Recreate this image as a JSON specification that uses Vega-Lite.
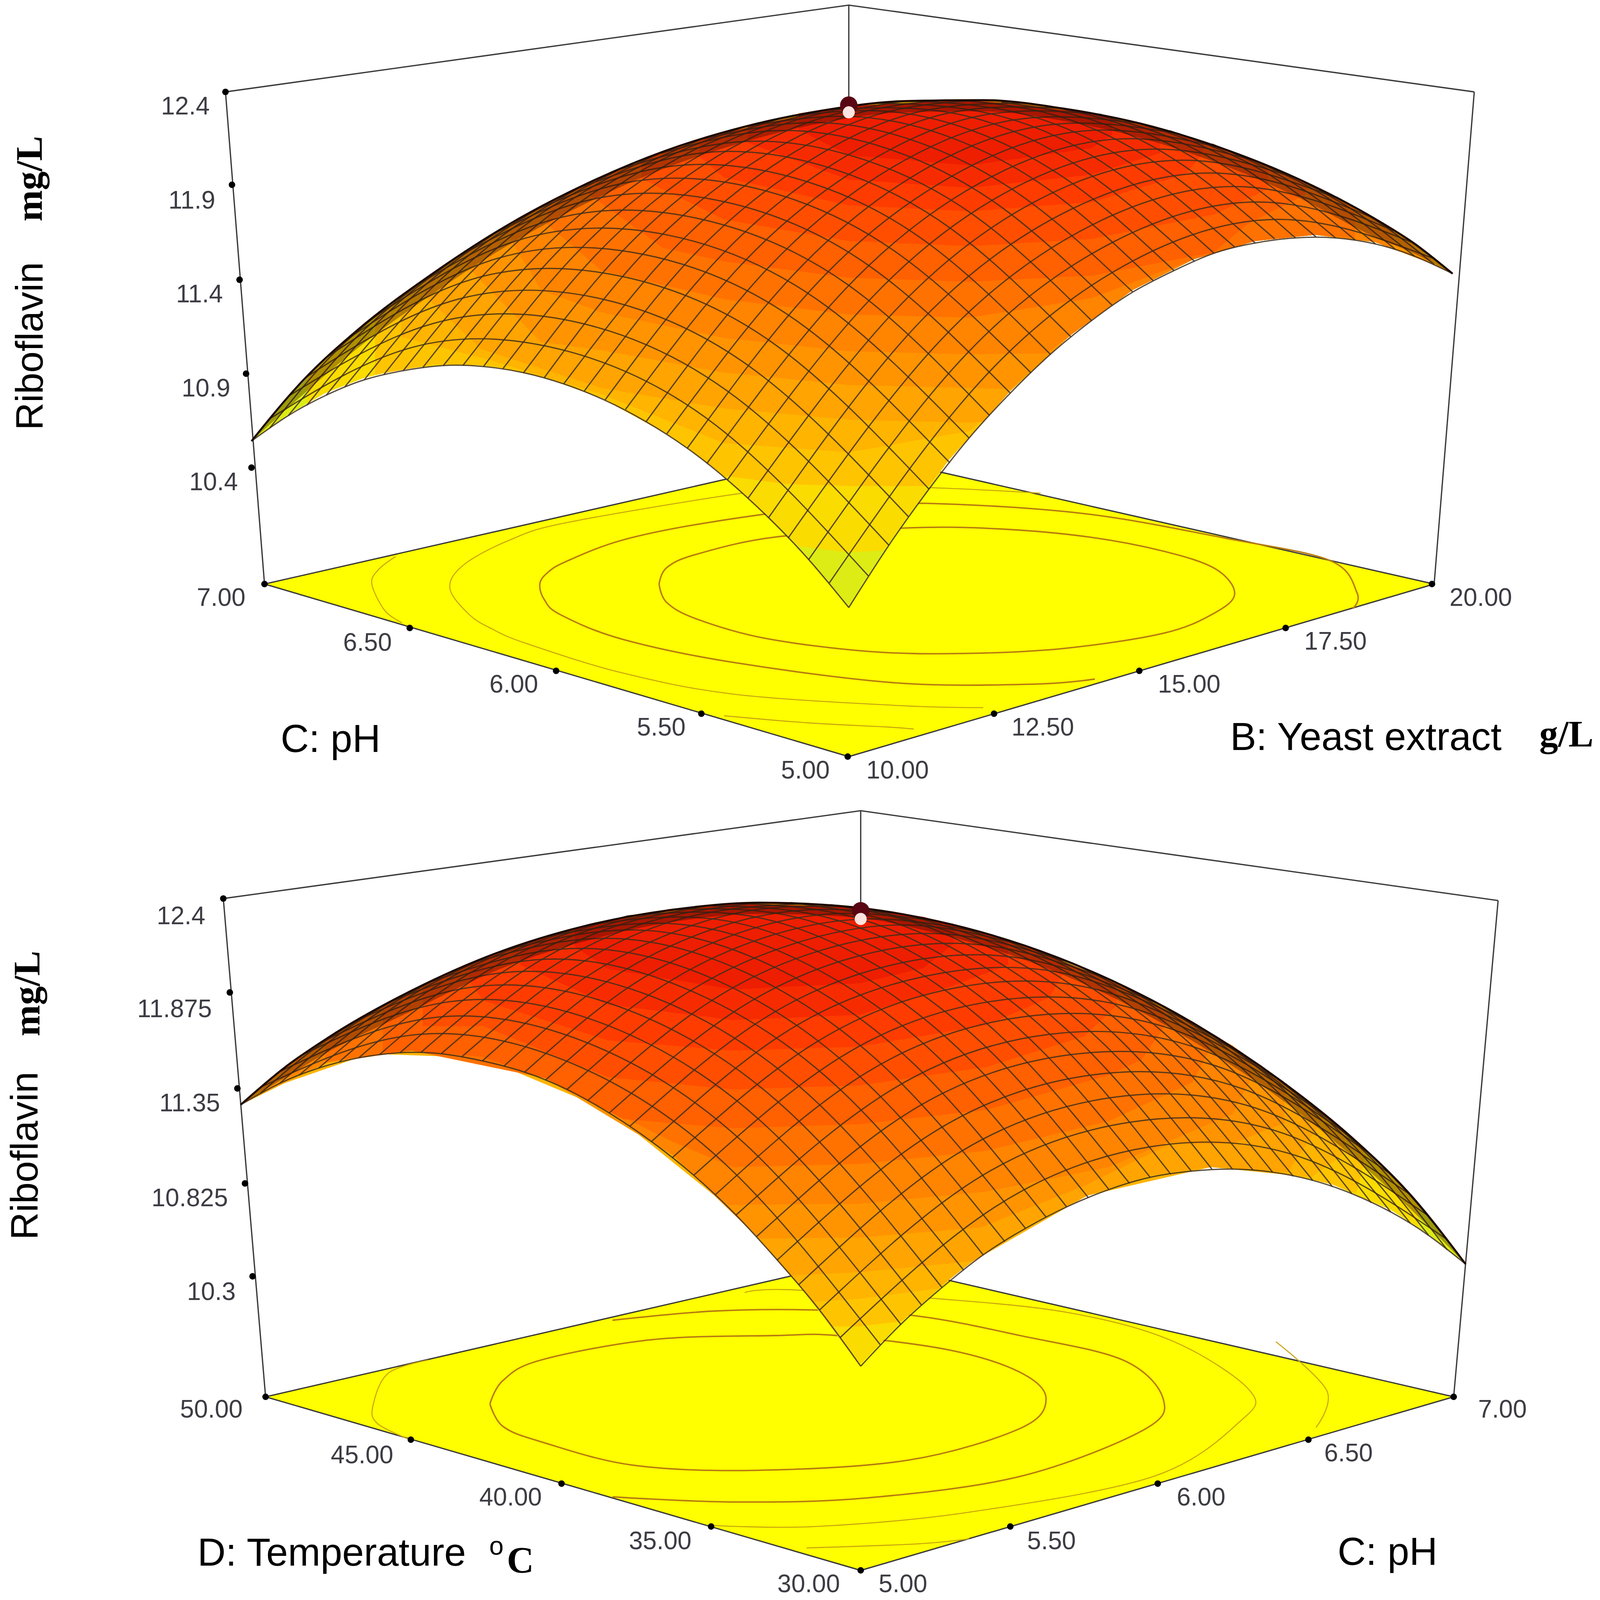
{"$schema":"https://vega.github.io/schema/vega-lite/v6.json","width":4096,"height":4096,"padding":0,"autosize":{"type":"fit","contains":"padding"},"background":"white","config":{"view":{"stroke":null}},
"datasets":{
"plane":[{"b":"1","x":244,"y":572,"y2":572},{"b":"1","x":783,"y":442,"y2":741},{"b":"1","x":1323,"y":572,"y2":572},{"b":"2","x":245,"y":1368,"y2":1368},{"b":"2","x":794,"y":1234,"y2":1538},{"b":"2","x":1341,"y":1368,"y2":1368}],
"frame":[{"m":"t1","x":208,"y":90},{"m":"t1","x":783,"y":5},{"m":"t1","x":1360,"y":90},{"m":"l1","x":208,"y":90},{"m":"l1","x":244,"y":572},{"m":"r1","x":1360,"y":90},{"m":"r1","x":1323,"y":572},{"m":"k1","x":783,"y":5},{"m":"k1","x":783,"y":104},{"m":"pf1","x":244,"y":572},{"m":"pf1","x":783,"y":741},{"m":"pf1","x":1323,"y":572},{"m":"pb1","x":244,"y":572},{"m":"pb1","x":783,"y":442},{"m":"pb1","x":1323,"y":572},{"m":"t2","x":206,"y":880},{"m":"t2","x":794,"y":794},{"m":"t2","x":1382,"y":882},{"m":"l2","x":206,"y":880},{"m":"l2","x":245,"y":1368},{"m":"r2","x":1382,"y":882},{"m":"r2","x":1341,"y":1368},{"m":"k2","x":794,"y":794},{"m":"k2","x":794,"y":892},{"m":"pf2","x":245,"y":1368},{"m":"pf2","x":794,"y":1538},{"m":"pf2","x":1341,"y":1368},{"m":"pb2","x":245,"y":1368},{"m":"pb2","x":794,"y":1234},{"m":"pb2","x":1341,"y":1368}],
"strong":[{"m":"c1","p":1,"x":608,"y":572},{"m":"c1","p":2,"x":615,"y":590},{"m":"c1","p":3,"x":642,"y":606},{"m":"c1","p":4,"x":705,"y":625},{"m":"c1","p":5,"x":801,"y":638},{"m":"c1","p":6,"x":889,"y":640},{"m":"c1","p":7,"x":982,"y":635},{"m":"c1","p":8,"x":1074,"y":620},{"m":"c1","p":9,"x":1121,"y":600},{"m":"c1","p":10,"x":1139,"y":581},{"m":"c1","p":11,"x":1121,"y":557},{"m":"c1","p":12,"x":1074,"y":540},{"m":"c1","p":13,"x":1005,"y":526},{"m":"c1","p":14,"x":922,"y":518},{"m":"c1","p":15,"x":838,"y":517},{"m":"c1","p":16,"x":715,"y":526},{"m":"c1","p":17,"x":642,"y":543},{"m":"c1","p":18,"x":615,"y":556},{"m":"c1","p":19,"x":608,"y":572},
{"m":"d1","p":1,"x":1010,"y":665},{"m":"d1","p":2,"x":954,"y":670},{"m":"d1","p":3,"x":829,"y":669},{"m":"d1","p":4,"x":678,"y":649},{"m":"d1","p":5,"x":574,"y":626},{"m":"d1","p":6,"x":517,"y":602},{"m":"d1","p":7,"x":502,"y":587},{"m":"d1","p":8,"x":498,"y":572},{"m":"d1","p":9,"x":505,"y":561},{"m":"d1","p":10,"x":522,"y":550},{"m":"d1","p":11,"x":574,"y":529},{"m":"d1","p":12,"x":652,"y":512},{"m":"d1","p":13,"x":760,"y":497},{"m":"d1","p":14,"x":855,"y":493},{"m":"d1","p":15,"x":1000,"y":503},{"m":"d1","p":16,"x":1130,"y":527},{"m":"d1","p":17,"x":1227,"y":549},{"m":"d1","p":18,"x":1252,"y":581},{"m":"d1","p":19,"x":1248,"y":596},
{"m":"c2","p":1,"x":452,"y":1375},{"m":"c2","p":2,"x":464,"y":1397},{"m":"c2","p":3,"x":499,"y":1412},{"m":"c2","p":4,"x":584,"y":1435},{"m":"c2","p":5,"x":697,"y":1440},{"m":"c2","p":6,"x":838,"y":1430},{"m":"c2","p":7,"x":941,"y":1399},{"m":"c2","p":8,"x":965,"y":1370},{"m":"c2","p":9,"x":941,"y":1344},{"m":"c2","p":10,"x":875,"y":1322},{"m":"c2","p":11,"x":772,"y":1308},{"m":"c2","p":12,"x":715,"y":1308},{"m":"c2","p":13,"x":602,"y":1312},{"m":"c2","p":14,"x":499,"y":1332},{"m":"c2","p":15,"x":464,"y":1352},{"m":"c2","p":16,"x":452,"y":1375},
{"m":"d2","p":1,"x":565,"y":1466},{"m":"d2","p":2,"x":678,"y":1471},{"m":"d2","p":3,"x":800,"y":1467},{"m":"d2","p":4,"x":941,"y":1446},{"m":"d2","p":5,"x":1054,"y":1401},{"m":"d2","p":6,"x":1073,"y":1370},{"m":"d2","p":7,"x":1036,"y":1332},{"m":"d2","p":8,"x":941,"y":1308},{"m":"d2","p":9,"x":847,"y":1289},{"m":"d2","p":10,"x":753,"y":1283},{"m":"d2","p":11,"x":659,"y":1284},{"m":"d2","p":12,"x":565,"y":1293}],
"faint":[{"m":"e1","p":1,"x":907,"y":693},{"m":"e1","p":2,"x":829,"y":691},{"m":"e1","p":3,"x":678,"y":680},{"m":"e1","p":4,"x":574,"y":659},{"m":"e1","p":5,"x":485,"y":630},{"m":"e1","p":6,"x":454,"y":616},{"m":"e1","p":7,"x":433,"y":602},{"m":"e1","p":8,"x":415,"y":576},{"m":"e1","p":9,"x":428,"y":553},{"m":"e1","p":10,"x":470,"y":529},{"m":"e1","p":11,"x":522,"y":512},{"m":"e1","p":12,"x":678,"y":484},{"m":"e1","p":13,"x":760,"y":475},{"m":"e1","p":14,"x":869,"y":478},{"m":"e1","p":15,"x":960,"y":483},
{"m":"f1","p":1,"x":365,"y":545},{"m":"f1","p":2,"x":349,"y":558},{"m":"f1","p":3,"x":343,"y":572},{"m":"f1","p":4,"x":355,"y":598},{"m":"f1","p":5,"x":371,"y":610},{"m":"g1","p":1,"x":668,"y":701},{"m":"g1","p":2,"x":746,"y":708},{"m":"g1","p":3,"x":818,"y":712},{"m":"g1","p":4,"x":843,"y":714},
{"m":"e2","p":1,"x":376,"y":1409},{"m":"e2","p":2,"x":348,"y":1394},{"m":"e2","p":3,"x":344,"y":1377},{"m":"e2","p":4,"x":358,"y":1345},{"m":"e2","p":5,"x":395,"y":1332},
{"m":"f2","p":1,"x":687,"y":1266},{"m":"f2","p":2,"x":725,"y":1263},{"m":"f2","p":3,"x":866,"y":1272},{"m":"f2","p":4,"x":988,"y":1286},{"m":"f2","p":5,"x":1083,"y":1314},{"m":"f2","p":6,"x":1153,"y":1362},{"m":"f2","p":7,"x":1144,"y":1392},{"m":"f2","p":8,"x":1064,"y":1446},{"m":"f2","p":9,"x":894,"y":1481},{"m":"f2","p":10,"x":753,"y":1495},{"m":"f2","p":11,"x":659,"y":1494},
{"m":"g2","p":1,"x":1177,"y":1314},{"m":"g2","p":2,"x":1224,"y":1362},{"m":"g2","p":3,"x":1214,"y":1398},{"m":"h2","p":1,"x":744,"y":1516},{"m":"h2","p":2,"x":847,"y":1512},{"m":"h2","p":3,"x":894,"y":1507}],
"bands":[
{"b":"s0","l":0,"x":232,"y":432,"y2":432},{"b":"s0","l":0,"x":266,"y":389,"y2":406},{"b":"s0","l":0,"x":300,"y":352,"y2":385},{"b":"s0","l":0,"x":336,"y":318,"y2":370},{"b":"s0","l":0,"x":372,"y":288,"y2":361},{"b":"s0","l":0,"x":427,"y":248,"y2":356},{"b":"s0","l":0,"x":483,"y":212,"y2":363},{"b":"s0","l":0,"x":539,"y":181,"y2":381},{"b":"s0","l":0,"x":596,"y":155,"y2":411},{"b":"s0","l":0,"x":652,"y":134,"y2":452},{"b":"s0","l":0,"x":709,"y":118,"y2":506},{"b":"s0","l":0,"x":746,"y":110,"y2":547},{"b":"s0","l":0,"x":783,"y":104,"y2":594},{"b":"s0","l":0,"x":820,"y":100,"y2":533},{"b":"s0","l":0,"x":875,"y":98,"y2":451},{"b":"s0","l":0,"x":932,"y":100,"y2":383},{"b":"s0","l":0,"x":988,"y":107,"y2":328},{"b":"s0","l":0,"x":1045,"y":119,"y2":284},{"b":"s0","l":0,"x":1101,"y":135,"y2":254},{"b":"s0","l":0,"x":1158,"y":157,"y2":236},{"b":"s0","l":0,"x":1213,"y":183,"y2":230},{"b":"s0","l":0,"x":1268,"y":214,"y2":237},{"b":"s0","l":0,"x":1305,"y":239,"y2":250},{"b":"s0","l":0,"x":1340,"y":268,"y2":268},
{"b":"s1","l":1,"x":283,"y":370,"y2":395},{"b":"s1","l":1,"x":300,"y":352,"y2":385},{"b":"s1","l":1,"x":336,"y":318,"y2":370},{"b":"s1","l":1,"x":372,"y":288,"y2":361},{"b":"s1","l":1,"x":427,"y":248,"y2":356},{"b":"s1","l":1,"x":483,"y":212,"y2":363},{"b":"s1","l":1,"x":539,"y":181,"y2":381},{"b":"s1","l":1,"x":596,"y":155,"y2":411},{"b":"s1","l":1,"x":652,"y":134,"y2":452},{"b":"s1","l":1,"x":709,"y":118,"y2":506},{"b":"s1","l":1,"x":737,"y":112,"y2":535},{"b":"s1","l":1,"x":783,"y":104,"y2":541},{"b":"s1","l":1,"x":815,"y":100,"y2":539},{"b":"s1","l":1,"x":875,"y":98,"y2":451},{"b":"s1","l":1,"x":932,"y":100,"y2":383},{"b":"s1","l":1,"x":988,"y":107,"y2":328},{"b":"s1","l":1,"x":1045,"y":119,"y2":284},{"b":"s1","l":1,"x":1101,"y":135,"y2":254},{"b":"s1","l":1,"x":1158,"y":157,"y2":236},{"b":"s1","l":1,"x":1213,"y":183,"y2":230},{"b":"s1","l":1,"x":1268,"y":214,"y2":237},{"b":"s1","l":1,"x":1305,"y":239,"y2":250},{"b":"s1","l":1,"x":1340,"y":268,"y2":268},
{"b":"s2","l":2,"x":346,"y":310,"y2":367},{"b":"s2","l":2,"x":400,"y":267,"y2":357},{"b":"s2","l":2,"x":450,"y":232,"y2":358},{"b":"s2","l":2,"x":500,"y":202,"y2":369},{"b":"s2","l":2,"x":555,"y":174,"y2":390},{"b":"s2","l":2,"x":620,"y":146,"y2":428},{"b":"s2","l":2,"x":668,"y":130,"y2":466},{"b":"s2","l":2,"x":725,"y":115,"y2":474},{"b":"s2","l":2,"x":783,"y":104,"y2":476},{"b":"s2","l":2,"x":857,"y":99,"y2":476},{"b":"s2","l":2,"x":875,"y":98,"y2":451},{"b":"s2","l":2,"x":932,"y":100,"y2":383},{"b":"s2","l":2,"x":988,"y":107,"y2":328},{"b":"s2","l":2,"x":1045,"y":119,"y2":284},{"b":"s2","l":2,"x":1101,"y":135,"y2":254},{"b":"s2","l":2,"x":1158,"y":157,"y2":236},{"b":"s2","l":2,"x":1213,"y":183,"y2":230},{"b":"s2","l":2,"x":1268,"y":214,"y2":237},{"b":"s2","l":2,"x":1305,"y":239,"y2":250},{"b":"s2","l":2,"x":1340,"y":268,"y2":268},
{"b":"s25","l":2.5,"x":370,"y":290,"y2":330},{"b":"s25","l":2.5,"x":450,"y":232,"y2":352},{"b":"s25","l":2.5,"x":555,"y":174,"y2":386},{"b":"s25","l":2.5,"x":668,"y":130,"y2":434},{"b":"s25","l":2.5,"x":783,"y":104,"y2":443},{"b":"s25","l":2.5,"x":895,"y":98,"y2":422},{"b":"s25","l":2.5,"x":932,"y":100,"y2":383},{"b":"s25","l":2.5,"x":988,"y":107,"y2":328},{"b":"s25","l":2.5,"x":1045,"y":119,"y2":284},{"b":"s25","l":2.5,"x":1101,"y":135,"y2":254},{"b":"s25","l":2.5,"x":1158,"y":157,"y2":236},{"b":"s25","l":2.5,"x":1213,"y":183,"y2":230},{"b":"s25","l":2.5,"x":1268,"y":214,"y2":237},{"b":"s25","l":2.5,"x":1305,"y":239,"y2":250},{"b":"s25","l":2.5,"x":1340,"y":268,"y2":268},
{"b":"s3","l":3,"x":392,"y":273,"y2":290},{"b":"s3","l":3,"x":444,"y":236,"y2":342},{"b":"s3","l":3,"x":555,"y":174,"y2":380},{"b":"s3","l":3,"x":668,"y":130,"y2":400},{"b":"s3","l":3,"x":783,"y":104,"y2":411},{"b":"s3","l":3,"x":895,"y":98,"y2":414},{"b":"s3","l":3,"x":907,"y":98,"y2":413},{"b":"s3","l":3,"x":932,"y":100,"y2":383},{"b":"s3","l":3,"x":988,"y":107,"y2":328},{"b":"s3","l":3,"x":1045,"y":119,"y2":284},{"b":"s3","l":3,"x":1101,"y":135,"y2":254},{"b":"s3","l":3,"x":1158,"y":157,"y2":236},{"b":"s3","l":3,"x":1213,"y":183,"y2":230},{"b":"s3","l":3,"x":1268,"y":214,"y2":237},{"b":"s3","l":3,"x":1305,"y":239,"y2":250},
{"b":"s35","l":3.5,"x":430,"y":245,"y2":260},{"b":"s35","l":3.5,"x":499,"y":202,"y2":335},{"b":"s35","l":3.5,"x":555,"y":174,"y2":343},{"b":"s35","l":3.5,"x":668,"y":130,"y2":365},{"b":"s35","l":3.5,"x":783,"y":104,"y2":377},{"b":"s35","l":3.5,"x":895,"y":98,"y2":380},{"b":"s35","l":3.5,"x":932,"y":100,"y2":381},{"b":"s35","l":3.5,"x":988,"y":107,"y2":328},{"b":"s35","l":3.5,"x":1045,"y":119,"y2":284},{"b":"s35","l":3.5,"x":1101,"y":135,"y2":254},{"b":"s35","l":3.5,"x":1158,"y":157,"y2":236},{"b":"s35","l":3.5,"x":1213,"y":183,"y2":230},{"b":"s35","l":3.5,"x":1268,"y":214,"y2":237},{"b":"s35","l":3.5,"x":1320,"y":254,"y2":258},
{"b":"s4","l":4,"x":471,"y":219,"y2":234},{"b":"s4","l":4,"x":499,"y":202,"y2":284},{"b":"s4","l":4,"x":555,"y":174,"y2":306},{"b":"s4","l":4,"x":668,"y":130,"y2":331},{"b":"s4","l":4,"x":783,"y":104,"y2":344},{"b":"s4","l":4,"x":895,"y":98,"y2":347},{"b":"s4","l":4,"x":965,"y":103,"y2":346},{"b":"s4","l":4,"x":988,"y":107,"y2":328},{"b":"s4","l":4,"x":1045,"y":119,"y2":284},{"b":"s4","l":4,"x":1101,"y":135,"y2":254},{"b":"s4","l":4,"x":1158,"y":157,"y2":236},{"b":"s4","l":4,"x":1213,"y":183,"y2":230},{"b":"s4","l":4,"x":1268,"y":214,"y2":237},{"b":"s4","l":4,"x":1285,"y":226,"y2":243},
{"b":"s45","l":4.5,"x":505,"y":198,"y2":220},{"b":"s45","l":4.5,"x":555,"y":174,"y2":265},{"b":"s45","l":4.5,"x":668,"y":130,"y2":293},{"b":"s45","l":4.5,"x":783,"y":104,"y2":308},{"b":"s45","l":4.5,"x":895,"y":98,"y2":311},{"b":"s45","l":4.5,"x":1007,"y":111,"y2":292},{"b":"s45","l":4.5,"x":1101,"y":135,"y2":254},{"b":"s45","l":4.5,"x":1158,"y":157,"y2":236},{"b":"s45","l":4.5,"x":1213,"y":183,"y2":230},{"b":"s45","l":4.5,"x":1250,"y":203,"y2":233},
{"b":"s5","l":5,"x":543,"y":179,"y2":190},{"b":"s5","l":5,"x":612,"y":149,"y2":243},{"b":"s5","l":5,"x":668,"y":130,"y2":256},{"b":"s5","l":5,"x":783,"y":104,"y2":272},{"b":"s5","l":5,"x":895,"y":98,"y2":276},{"b":"s5","l":5,"x":1007,"y":111,"y2":270},{"b":"s5","l":5,"x":1120,"y":143,"y2":247},{"b":"s5","l":5,"x":1150,"y":155,"y2":220},{"b":"s5","l":5,"x":1205,"y":179,"y2":190},
{"b":"s55","l":5.5,"x":592,"y":156,"y2":175},{"b":"s55","l":5.5,"x":668,"y":130,"y2":215},{"b":"s55","l":5.5,"x":783,"y":104,"y2":236},{"b":"s55","l":5.5,"x":895,"y":98,"y2":241},{"b":"s55","l":5.5,"x":1007,"y":111,"y2":234},{"b":"s55","l":5.5,"x":1120,"y":143,"y2":210},{"b":"s55","l":5.5,"x":1170,"y":165,"y2":185},
{"b":"s6","l":6,"x":645,"y":137,"y2":153},{"b":"s6","l":6,"x":668,"y":130,"y2":174},{"b":"s6","l":6,"x":783,"y":104,"y2":201},{"b":"s6","l":6,"x":895,"y":98,"y2":207},{"b":"s6","l":6,"x":1007,"y":111,"y2":198},{"b":"s6","l":6,"x":1093,"y":134,"y2":171},{"b":"s6","l":6,"x":1110,"y":138,"y2":150},
{"b":"s65","l":6.5,"x":690,"y":124,"y2":140},{"b":"s65","l":6.5,"x":783,"y":104,"y2":176},{"b":"s65","l":6.5,"x":895,"y":98,"y2":184},{"b":"s65","l":6.5,"x":1007,"y":111,"y2":171},{"b":"s65","l":6.5,"x":1070,"y":127,"y2":150},
{"b":"s7","l":7,"x":737,"y":111,"y2":127},{"b":"s7","l":7,"x":783,"y":104,"y2":152},{"b":"s7","l":7,"x":895,"y":98,"y2":162},{"b":"s7","l":7,"x":1007,"y":111,"y2":145},{"b":"s7","l":7,"x":1026,"y":114,"y2":132},
{"b":"t0","l":0,"x":222,"y":1082,"y2":1082},{"b":"t0","l":0,"x":262,"y":1046,"y2":1061},{"b":"t0","l":0,"x":302,"y":1016,"y2":1041},{"b":"t0","l":0,"x":341,"y":992,"y2":1032},{"b":"t0","l":0,"x":380,"y":969,"y2":1029},{"b":"t0","l":0,"x":445,"y":938,"y2":1036},{"b":"t0","l":0,"x":503,"y":917,"y2":1056},{"b":"t0","l":0,"x":562,"y":901,"y2":1088},{"b":"t0","l":0,"x":620,"y":890,"y2":1131},{"b":"t0","l":0,"x":679,"y":885,"y2":1188},{"b":"t0","l":0,"x":736,"y":885,"y2":1257},{"b":"t0","l":0,"x":793,"y":889,"y2":1337},{"b":"t0","l":0,"x":831,"y":896,"y2":1295},{"b":"t0","l":0,"x":888,"y":908,"y2":1242},{"b":"t0","l":0,"x":946,"y":926,"y2":1201},{"b":"t0","l":0,"x":1003,"y":951,"y2":1171},{"b":"t0","l":0,"x":1061,"y":978,"y2":1151},{"b":"t0","l":0,"x":1117,"y":1013,"y2":1143},{"b":"t0","l":0,"x":1174,"y":1053,"y2":1146},{"b":"t0","l":0,"x":1229,"y":1098,"y2":1160},{"b":"t0","l":0,"x":1283,"y":1150,"y2":1185},{"b":"t0","l":0,"x":1318,"y":1191,"y2":1209},{"b":"t0","l":0,"x":1352,"y":1238,"y2":1238},
{"b":"t1","l":1,"x":222,"y":1082,"y2":1082},{"b":"t1","l":1,"x":262,"y":1046,"y2":1061},{"b":"t1","l":1,"x":302,"y":1016,"y2":1041},{"b":"t1","l":1,"x":341,"y":992,"y2":1032},{"b":"t1","l":1,"x":380,"y":969,"y2":1029},{"b":"t1","l":1,"x":445,"y":938,"y2":1036},{"b":"t1","l":1,"x":503,"y":917,"y2":1056},{"b":"t1","l":1,"x":562,"y":901,"y2":1088},{"b":"t1","l":1,"x":620,"y":890,"y2":1131},{"b":"t1","l":1,"x":679,"y":885,"y2":1188},{"b":"t1","l":1,"x":736,"y":885,"y2":1257},{"b":"t1","l":1,"x":793,"y":889,"y2":1337},{"b":"t1","l":1,"x":831,"y":896,"y2":1295},{"b":"t1","l":1,"x":888,"y":908,"y2":1242},{"b":"t1","l":1,"x":946,"y":926,"y2":1201},{"b":"t1","l":1,"x":1003,"y":951,"y2":1171},{"b":"t1","l":1,"x":1061,"y":978,"y2":1151},{"b":"t1","l":1,"x":1117,"y":1013,"y2":1143},{"b":"t1","l":1,"x":1174,"y":1053,"y2":1146},{"b":"t1","l":1,"x":1229,"y":1098,"y2":1160},{"b":"t1","l":1,"x":1283,"y":1150,"y2":1185},{"b":"t1","l":1,"x":1309,"y":1181,"y2":1202},
{"b":"t2","l":2,"x":222,"y":1082,"y2":1082},{"b":"t2","l":2,"x":262,"y":1046,"y2":1061},{"b":"t2","l":2,"x":302,"y":1016,"y2":1041},{"b":"t2","l":2,"x":341,"y":992,"y2":1032},{"b":"t2","l":2,"x":380,"y":969,"y2":1029},{"b":"t2","l":2,"x":445,"y":938,"y2":1036},{"b":"t2","l":2,"x":503,"y":917,"y2":1056},{"b":"t2","l":2,"x":562,"y":901,"y2":1088},{"b":"t2","l":2,"x":620,"y":890,"y2":1131},{"b":"t2","l":2,"x":679,"y":885,"y2":1188},{"b":"t2","l":2,"x":736,"y":885,"y2":1257},{"b":"t2","l":2,"x":768,"y":886,"y2":1299},{"b":"t2","l":2,"x":793,"y":889,"y2":1299},{"b":"t2","l":2,"x":832,"y":896,"y2":1294},{"b":"t2","l":2,"x":888,"y":908,"y2":1242},{"b":"t2","l":2,"x":946,"y":926,"y2":1201},{"b":"t2","l":2,"x":1003,"y":951,"y2":1171},{"b":"t2","l":2,"x":1061,"y":978,"y2":1151},{"b":"t2","l":2,"x":1117,"y":1013,"y2":1143},{"b":"t2","l":2,"x":1174,"y":1053,"y2":1146},{"b":"t2","l":2,"x":1229,"y":1098,"y2":1160},{"b":"t2","l":2,"x":1251,"y":1118,"y2":1169},{"b":"t2","l":2,"x":1258,"y":1125,"y2":1141},
{"b":"t25","l":2.5,"x":222,"y":1082,"y2":1082},{"b":"t25","l":2.5,"x":262,"y":1046,"y2":1061},{"b":"t25","l":2.5,"x":341,"y":992,"y2":1032},{"b":"t25","l":2.5,"x":445,"y":938,"y2":1036},{"b":"t25","l":2.5,"x":562,"y":901,"y2":1088},{"b":"t25","l":2.5,"x":679,"y":885,"y2":1188},{"b":"t25","l":2.5,"x":750,"y":885,"y2":1275},{"b":"t25","l":2.5,"x":793,"y":889,"y2":1272},{"b":"t25","l":2.5,"x":865,"y":902,"y2":1262},{"b":"t25","l":2.5,"x":898,"y":911,"y2":1235},{"b":"t25","l":2.5,"x":1003,"y":951,"y2":1171},{"b":"t25","l":2.5,"x":1117,"y":1013,"y2":1143},{"b":"t25","l":2.5,"x":1210,"y":1082,"y2":1153},{"b":"t25","l":2.5,"x":1240,"y":1108,"y2":1130},
{"b":"t3","l":3,"x":222,"y":1082,"y2":1082},{"b":"t3","l":3,"x":262,"y":1046,"y2":1061},{"b":"t3","l":3,"x":302,"y":1016,"y2":1041},{"b":"t3","l":3,"x":341,"y":992,"y2":1032},{"b":"t3","l":3,"x":380,"y":969,"y2":1029},{"b":"t3","l":3,"x":445,"y":938,"y2":1036},{"b":"t3","l":3,"x":503,"y":917,"y2":1056},{"b":"t3","l":3,"x":562,"y":901,"y2":1088},{"b":"t3","l":3,"x":620,"y":890,"y2":1131},{"b":"t3","l":3,"x":679,"y":885,"y2":1188},{"b":"t3","l":3,"x":730,"y":885,"y2":1249},{"b":"t3","l":3,"x":793,"y":889,"y2":1246},{"b":"t3","l":3,"x":898,"y":911,"y2":1235},{"b":"t3","l":3,"x":946,"y":926,"y2":1201},{"b":"t3","l":3,"x":1003,"y":951,"y2":1171},{"b":"t3","l":3,"x":1061,"y":978,"y2":1151},{"b":"t3","l":3,"x":1117,"y":1013,"y2":1143},{"b":"t3","l":3,"x":1188,"y":1065,"y2":1148},{"b":"t3","l":3,"x":1215,"y":1087,"y2":1105},
{"b":"t35","l":3.5,"x":240,"y":1065,"y2":1071},{"b":"t35","l":3.5,"x":302,"y":1016,"y2":1041},{"b":"t35","l":3.5,"x":380,"y":969,"y2":1029},{"b":"t35","l":3.5,"x":503,"y":917,"y2":1056},{"b":"t35","l":3.5,"x":620,"y":890,"y2":1131},{"b":"t35","l":3.5,"x":700,"y":885,"y2":1213},{"b":"t35","l":3.5,"x":793,"y":889,"y2":1212},{"b":"t35","l":3.5,"x":905,"y":913,"y2":1202},{"b":"t35","l":3.5,"x":1003,"y":951,"y2":1160},{"b":"t35","l":3.5,"x":1080,"y":996,"y2":1120},{"b":"t35","l":3.5,"x":1137,"y":1024,"y2":1120},{"b":"t35","l":3.5,"x":1185,"y":1062,"y2":1100},
{"b":"t4","l":4,"x":259,"y":1048,"y2":1058},{"b":"t4","l":4,"x":302,"y":1016,"y2":1041},{"b":"t4","l":4,"x":341,"y":992,"y2":1032},{"b":"t4","l":4,"x":380,"y":969,"y2":1029},{"b":"t4","l":4,"x":445,"y":938,"y2":1036},{"b":"t4","l":4,"x":503,"y":917,"y2":1056},{"b":"t4","l":4,"x":562,"y":901,"y2":1088},{"b":"t4","l":4,"x":620,"y":890,"y2":1131},{"b":"t4","l":4,"x":672,"y":885,"y2":1180},{"b":"t4","l":4,"x":793,"y":889,"y2":1179},{"b":"t4","l":4,"x":910,"y":914,"y2":1167},{"b":"t4","l":4,"x":1023,"y":959,"y2":1143},{"b":"t4","l":4,"x":1137,"y":1024,"y2":1091},{"b":"t4","l":4,"x":1154,"y":1040,"y2":1057},
{"b":"t45","l":4.5,"x":300,"y":1018,"y2":1040},{"b":"t45","l":4.5,"x":380,"y":969,"y2":1029},{"b":"t45","l":4.5,"x":503,"y":917,"y2":1056},{"b":"t45","l":4.5,"x":620,"y":890,"y2":1118},{"b":"t45","l":4.5,"x":676,"y":885,"y2":1143},{"b":"t45","l":4.5,"x":793,"y":889,"y2":1140},{"b":"t45","l":4.5,"x":910,"y":914,"y2":1127},{"b":"t45","l":4.5,"x":1023,"y":959,"y2":1098},{"b":"t45","l":4.5,"x":1100,"y":1004,"y2":1060},{"b":"t45","l":4.5,"x":1115,"y":1014,"y2":1030},
{"b":"t5","l":5,"x":353,"y":985,"y2":1031},{"b":"t5","l":5,"x":380,"y":969,"y2":1029},{"b":"t5","l":5,"x":445,"y":938,"y2":1035},{"b":"t5","l":5,"x":503,"y":917,"y2":1056},{"b":"t5","l":5,"x":575,"y":899,"y2":1096},{"b":"t5","l":5,"x":676,"y":885,"y2":1105},{"b":"t5","l":5,"x":793,"y":889,"y2":1101},{"b":"t5","l":5,"x":910,"y":914,"y2":1087},{"b":"t5","l":5,"x":1023,"y":959,"y2":1053},{"b":"t5","l":5,"x":1053,"y":975,"y2":1038},{"b":"t5","l":5,"x":1075,"y":990,"y2":1004},
{"b":"t55","l":5.5,"x":390,"y":964,"y2":1005},{"b":"t55","l":5.5,"x":446,"y":938,"y2":1005},{"b":"t55","l":5.5,"x":561,"y":902,"y2":1055},{"b":"t55","l":5.5,"x":676,"y":885,"y2":1067},{"b":"t55","l":5.5,"x":793,"y":889,"y2":1063},{"b":"t55","l":5.5,"x":910,"y":914,"y2":1045},{"b":"t55","l":5.5,"x":1000,"y":950,"y2":1015},{"b":"t55","l":5.5,"x":1030,"y":964,"y2":985},
{"b":"t6","l":6,"x":433,"y":944,"y2":961},{"b":"t6","l":6,"x":446,"y":938,"y2":980},{"b":"t6","l":6,"x":561,"y":902,"y2":1019},{"b":"t6","l":6,"x":676,"y":885,"y2":1029},{"b":"t6","l":6,"x":793,"y":889,"y2":1025},{"b":"t6","l":6,"x":910,"y":914,"y2":1004},{"b":"t6","l":6,"x":968,"y":934,"y2":977},{"b":"t6","l":6,"x":980,"y":940,"y2":955},
{"b":"t65","l":6.5,"x":480,"y":925,"y2":945},{"b":"t65","l":6.5,"x":561,"y":902,"y2":984},{"b":"t65","l":6.5,"x":676,"y":885,"y2":999},{"b":"t65","l":6.5,"x":793,"y":889,"y2":994},{"b":"t65","l":6.5,"x":880,"y":906,"y2":965},{"b":"t65","l":6.5,"x":930,"y":922,"y2":945},
{"b":"t7","l":7,"x":530,"y":910,"y2":927},{"b":"t7","l":7,"x":561,"y":902,"y2":949},{"b":"t7","l":7,"x":676,"y":885,"y2":969},{"b":"t7","l":7,"x":793,"y":889,"y2":963},{"b":"t7","l":7,"x":852,"y":898,"y2":948},{"b":"t7","l":7,"x":880,"y":906,"y2":924}],
"fold":[{"m":"1","x":232,"y":432,"y2":432},{"m":"1","x":280,"y":372,"y2":386},{"m":"1","x":330,"y":323,"y2":341},{"m":"1","x":399,"y":268,"y2":288},{"m":"1","x":469,"y":220,"y2":240},{"m":"1","x":541,"y":180,"y2":199},{"m":"1","x":613,"y":148,"y2":165},{"m":"1","x":687,"y":124,"y2":139},{"m":"1","x":760,"y":108,"y2":120},{"m":"1","x":834,"y":99,"y2":110},{"m":"1","x":907,"y":98,"y2":109},{"m":"1","x":979,"y":106,"y2":118},{"m":"1","x":1052,"y":121,"y2":135},{"m":"1","x":1124,"y":144,"y2":160},{"m":"1","x":1195,"y":174,"y2":192},{"m":"1","x":1268,"y":214,"y2":232},{"m":"1","x":1304,"y":238,"y2":248},{"m":"1","x":1340,"y":268,"y2":268},
{"m":"2","x":222,"y":1082,"y2":1082},{"m":"2","x":262,"y":1046,"y2":1056},{"m":"2","x":303,"y":1016,"y2":1030},{"m":"2","x":380,"y":970,"y2":990},{"m":"2","x":459,"y":933,"y2":950},{"m":"2","x":539,"y":907,"y2":922},{"m":"2","x":620,"y":891,"y2":903},{"m":"2","x":701,"y":884,"y2":895},{"m":"2","x":783,"y":888,"y2":898},{"m":"2","x":864,"y":902,"y2":914},{"m":"2","x":945,"y":926,"y2":940},{"m":"2","x":1025,"y":960,"y2":976},{"m":"2","x":1104,"y":1004,"y2":1022},{"m":"2","x":1181,"y":1058,"y2":1076},{"m":"2","x":1247,"y":1114,"y2":1132},{"m":"2","x":1301,"y":1170,"y2":1184},{"m":"2","x":1352,"y":1238,"y2":1238}],
"mesh":[
{"m":"a0","x":783,"y":595},{"m":"a0","x":820,"y":534},{"m":"a0","x":857,"y":479},{"m":"a0","x":894,"y":429},{"m":"a0","x":932,"y":385},{"m":"a0","x":969,"y":347},{"m":"a0","x":1007,"y":314},{"m":"a0","x":1045,"y":286},{"m":"a0","x":1083,"y":265},{"m":"a0","x":1120,"y":248},{"m":"a0","x":1158,"y":238},{"m":"a0","x":1195,"y":233},{"m":"a0","x":1232,"y":233},{"m":"a0","x":1269,"y":239},{"m":"a0","x":1305,"y":251},{"m":"a0","x":1340,"y":268},
{"m":"a1","x":765,"y":571},{"m":"a1","x":904,"y":374},{"m":"a1","x":1046,"y":255},{"m":"a1","x":1186,"y":215},{"m":"a1","x":1322,"y":253},
{"m":"a2","x":746,"y":548},{"m":"a2","x":886,"y":353},{"m":"a2","x":1027,"y":237},{"m":"a2","x":1168,"y":198},{"m":"a2","x":1304,"y":238},
{"m":"a3","x":727,"y":527},{"m":"a3","x":867,"y":334},{"m":"a3","x":1008,"y":220},{"m":"a3","x":1149,"y":183},{"m":"a3","x":1286,"y":226},
{"m":"a4","x":709,"y":507},{"m":"a4","x":848,"y":316},{"m":"a4","x":990,"y":204},{"m":"a4","x":1131,"y":170},{"m":"a4","x":1268,"y":214},
{"m":"a5","x":690,"y":488},{"m":"a5","x":825,"y":305},{"m":"a5","x":961,"y":194},{"m":"a5","x":1098,"y":157},{"m":"a5","x":1231,"y":193},
{"m":"a6","x":671,"y":470},{"m":"a6","x":802,"y":294},{"m":"a6","x":934,"y":185},{"m":"a6","x":1066,"y":146},{"m":"a6","x":1195,"y":174},
{"m":"a7","x":652,"y":454},{"m":"a7","x":779,"y":284},{"m":"a7","x":906,"y":178},{"m":"a7","x":1034,"y":136},{"m":"a7","x":1160,"y":158},
{"m":"a8","x":634,"y":439},{"m":"a8","x":755,"y":276},{"m":"a8","x":879,"y":172},{"m":"a8","x":1002,"y":128},{"m":"a8","x":1124,"y":144},
{"m":"a9","x":615,"y":425},{"m":"a9","x":732,"y":269},{"m":"a9","x":851,"y":167},{"m":"a9","x":970,"y":122},{"m":"a9","x":1088,"y":131},
{"m":"a10","x":596,"y":413},{"m":"a10","x":708,"y":263},{"m":"a10","x":823,"y":164},{"m":"a10","x":938,"y":117},{"m":"a10","x":1052,"y":121},
{"m":"a11","x":577,"y":401},{"m":"a11","x":685,"y":258},{"m":"a11","x":796,"y":162},{"m":"a11","x":906,"y":113},{"m":"a11","x":1016,"y":112},
{"m":"a12","x":558,"y":392},{"m":"a12","x":661,"y":255},{"m":"a12","x":768,"y":161},{"m":"a12","x":874,"y":111},{"m":"a12","x":979,"y":106},
{"m":"a13","x":539,"y":383},{"m":"a13","x":638,"y":252},{"m":"a13","x":740,"y":162},{"m":"a13","x":842,"y":111},{"m":"a13","x":943,"y":101},
{"m":"a14","x":520,"y":376},{"m":"a14","x":615,"y":251},{"m":"a14","x":712,"y":163},{"m":"a14","x":810,"y":112},{"m":"a14","x":907,"y":98},
{"m":"a15","x":502,"y":370},{"m":"a15","x":591,"y":251},{"m":"a15","x":684,"y":167},{"m":"a15","x":778,"y":115},{"m":"a15","x":870,"y":98},
{"m":"a16","x":483,"y":365},{"m":"a16","x":568,"y":253},{"m":"a16","x":656,"y":171},{"m":"a16","x":745,"y":120},{"m":"a16","x":834,"y":99},
{"m":"a17","x":464,"y":361},{"m":"a17","x":545,"y":255},{"m":"a17","x":628,"y":177},{"m":"a17","x":712,"y":126},{"m":"a17","x":797,"y":102},
{"m":"a18","x":446,"y":359},{"m":"a18","x":522,"y":259},{"m":"a18","x":600,"y":184},{"m":"a18","x":680,"y":134},{"m":"a18","x":760,"y":108},
{"m":"a19","x":427,"y":358},{"m":"a19","x":499,"y":264},{"m":"a19","x":572,"y":192},{"m":"a19","x":648,"y":143},{"m":"a19","x":723,"y":115},
{"m":"a20","x":409,"y":358},{"m":"a20","x":499,"y":246},{"m":"a20","x":592,"y":167},{"m":"a20","x":687,"y":124},
{"m":"a21","x":390,"y":360},{"m":"a21","x":474,"y":254},{"m":"a21","x":561,"y":180},{"m":"a21","x":650,"y":135},
{"m":"a22","x":372,"y":363},{"m":"a22","x":450,"y":265},{"m":"a22","x":531,"y":193},{"m":"a22","x":613,"y":148},
{"m":"a23","x":354,"y":367},{"m":"a23","x":426,"y":276},{"m":"a23","x":501,"y":208},{"m":"a23","x":577,"y":163},
{"m":"a24","x":336,"y":372},{"m":"a24","x":402,"y":289},{"m":"a24","x":471,"y":225},{"m":"a24","x":541,"y":180},
{"m":"a25","x":318,"y":379},{"m":"a25","x":379,"y":303},{"m":"a25","x":441,"y":243},{"m":"a25","x":505,"y":199},
{"m":"a26","x":301,"y":387},{"m":"a26","x":383,"y":288},{"m":"a26","x":469,"y":220},
{"m":"a27","x":283,"y":397},{"m":"a27","x":357,"y":307},{"m":"a27","x":434,"y":243},
{"m":"a28","x":266,"y":407},{"m":"a28","x":331,"y":328},{"m":"a28","x":399,"y":268},
{"m":"a29","x":249,"y":419},{"m":"a29","x":305,"y":349},{"m":"a29","x":364,"y":295},
{"m":"a30","x":232,"y":432},{"m":"a30","x":280,"y":372},{"m":"a30","x":330,"y":323},
{"m":"b0","x":783,"y":595},{"m":"b0","x":746,"y":548},{"m":"b0","x":709,"y":507},{"m":"b0","x":671,"y":470},{"m":"b0","x":634,"y":439},{"m":"b0","x":596,"y":413},{"m":"b0","x":558,"y":392},{"m":"b0","x":520,"y":376},{"m":"b0","x":483,"y":365},{"m":"b0","x":446,"y":359},{"m":"b0","x":409,"y":358},{"m":"b0","x":372,"y":363},{"m":"b0","x":336,"y":372},{"m":"b0","x":301,"y":387},{"m":"b0","x":266,"y":407},{"m":"b0","x":232,"y":432},
{"m":"b1","x":801,"y":564},{"m":"b1","x":661,"y":417},{"m":"b1","x":520,"y":343},{"m":"b1","x":381,"y":340},{"m":"b1","x":249,"y":410},
{"m":"b2","x":820,"y":534},{"m":"b2","x":680,"y":390},{"m":"b2","x":538,"y":317},{"m":"b2","x":399,"y":317},{"m":"b2","x":266,"y":388},
{"m":"b3","x":838,"y":506},{"m":"b3","x":698,"y":364},{"m":"b3","x":556,"y":293},{"m":"b3","x":416,"y":295},{"m":"b3","x":283,"y":369},
{"m":"b4","x":857,"y":479},{"m":"b4","x":717,"y":339},{"m":"b4","x":575,"y":271},{"m":"b4","x":434,"y":274},{"m":"b4","x":301,"y":350},
{"m":"b5","x":876,"y":453},{"m":"b5","x":736,"y":315},{"m":"b5","x":593,"y":249},{"m":"b5","x":453,"y":255},{"m":"b5","x":319,"y":333},
{"m":"b6","x":894,"y":429},{"m":"b6","x":756,"y":295},{"m":"b6","x":615,"y":230},{"m":"b6","x":476,"y":236},{"m":"b6","x":343,"y":312},
{"m":"b7","x":913,"y":407},{"m":"b7","x":781,"y":278},{"m":"b7","x":644,"y":214},{"m":"b7","x":510,"y":215},{"m":"b7","x":380,"y":282},
{"m":"b8","x":932,"y":385},{"m":"b8","x":804,"y":262},{"m":"b8","x":674,"y":199},{"m":"b8","x":543,"y":196},{"m":"b8","x":418,"y":254},
{"m":"b9","x":951,"y":365},{"m":"b9","x":828,"y":248},{"m":"b9","x":703,"y":186},{"m":"b9","x":577,"y":179},{"m":"b9","x":455,"y":229},
{"m":"b10","x":969,"y":347},{"m":"b10","x":852,"y":235},{"m":"b10","x":732,"y":174},{"m":"b10","x":611,"y":164},{"m":"b10","x":493,"y":206},
{"m":"b11","x":988,"y":330},{"m":"b11","x":876,"y":223},{"m":"b11","x":761,"y":163},{"m":"b11","x":646,"y":150},{"m":"b11","x":532,"y":185},
{"m":"b12","x":1007,"y":314},{"m":"b12","x":900,"y":212},{"m":"b12","x":790,"y":154},{"m":"b12","x":680,"y":139},{"m":"b12","x":571,"y":166},
{"m":"b13","x":1026,"y":299},{"m":"b13","x":924,"y":203},{"m":"b13","x":820,"y":146},{"m":"b13","x":714,"y":128},{"m":"b13","x":610,"y":150},
{"m":"b14","x":1045,"y":286},{"m":"b14","x":948,"y":196},{"m":"b14","x":849,"y":140},{"m":"b14","x":749,"y":120},{"m":"b14","x":649,"y":136},
{"m":"b15","x":1064,"y":275},{"m":"b15","x":972,"y":189},{"m":"b15","x":878,"y":135},{"m":"b15","x":784,"y":114},{"m":"b15","x":688,"y":124},
{"m":"b16","x":1083,"y":265},{"m":"b16","x":995,"y":184},{"m":"b16","x":907,"y":132},{"m":"b16","x":818,"y":109},{"m":"b16","x":728,"y":114},
{"m":"b17","x":1102,"y":256},{"m":"b17","x":992,"y":161},{"m":"b17","x":880,"y":111},{"m":"b17","x":767,"y":107},
{"m":"b18","x":1120,"y":248},{"m":"b18","x":1017,"y":159},{"m":"b18","x":912,"y":111},{"m":"b18","x":807,"y":101},
{"m":"b19","x":1139,"y":242},{"m":"b19","x":1043,"y":160},{"m":"b19","x":945,"y":112},{"m":"b19","x":846,"y":99},
{"m":"b20","x":1158,"y":238},{"m":"b20","x":1068,"y":161},{"m":"b20","x":977,"y":114},{"m":"b20","x":885,"y":98},
{"m":"b21","x":1176,"y":234},{"m":"b21","x":1093,"y":163},{"m":"b21","x":1009,"y":118},{"m":"b21","x":924,"y":100},
{"m":"b22","x":1195,"y":233},{"m":"b22","x":1119,"y":167},{"m":"b22","x":1041,"y":124},{"m":"b22","x":963,"y":103},
{"m":"b23","x":1214,"y":232},{"m":"b23","x":1144,"y":173},{"m":"b23","x":1073,"y":132},{"m":"b23","x":1002,"y":110},
{"m":"b24","x":1232,"y":233},{"m":"b24","x":1169,"y":180},{"m":"b24","x":1105,"y":141},{"m":"b24","x":1041,"y":118},
{"m":"b25","x":1250,"y":235},{"m":"b25","x":1166,"y":168},{"m":"b25","x":1079,"y":128},
{"m":"b26","x":1269,"y":239},{"m":"b26","x":1194,"y":180},{"m":"b26","x":1118,"y":141},
{"m":"b27","x":1287,"y":244},{"m":"b27","x":1222,"y":192},{"m":"b27","x":1156,"y":157},
{"m":"b28","x":1305,"y":251},{"m":"b28","x":1250,"y":207},{"m":"b28","x":1195,"y":174},
{"m":"b29","x":1323,"y":259},{"m":"b29","x":1278,"y":222},{"m":"b29","x":1233,"y":193},
{"m":"b30","x":1340,"y":268},{"m":"b30","x":1306,"y":239},{"m":"b30","x":1270,"y":215},
{"m":"A0","x":794,"y":1338},{"m":"A0","x":831,"y":1297},{"m":"A0","x":869,"y":1261},{"m":"A0","x":907,"y":1229},{"m":"A0","x":946,"y":1203},{"m":"A0","x":984,"y":1182},{"m":"A0","x":1023,"y":1165},{"m":"A0","x":1061,"y":1153},{"m":"A0","x":1099,"y":1147},{"m":"A0","x":1137,"y":1145},{"m":"A0","x":1174,"y":1148},{"m":"A0","x":1211,"y":1156},{"m":"A0","x":1247,"y":1169},{"m":"A0","x":1283,"y":1187},{"m":"A0","x":1318,"y":1210},{"m":"A0","x":1352,"y":1238},
{"m":"A1","x":775,"y":1310},{"m":"A1","x":918,"y":1182},{"m":"A1","x":1062,"y":1123},{"m":"A1","x":1202,"y":1134},{"m":"A1","x":1335,"y":1214},
{"m":"A2","x":756,"y":1283},{"m":"A2","x":899,"y":1156},{"m":"A2","x":1043,"y":1099},{"m":"A2","x":1184,"y":1110},{"m":"A2","x":1318,"y":1191},
{"m":"A3","x":737,"y":1258},{"m":"A3","x":880,"y":1132},{"m":"A3","x":1025,"y":1075},{"m":"A3","x":1166,"y":1088},{"m":"A3","x":1301,"y":1170},
{"m":"A4","x":717,"y":1234},{"m":"A4","x":861,"y":1109},{"m":"A4","x":1006,"y":1053},{"m":"A4","x":1148,"y":1067},{"m":"A4","x":1283,"y":1150},
{"m":"A5","x":698,"y":1211},{"m":"A5","x":842,"y":1087},{"m":"A5","x":987,"y":1033},{"m":"A5","x":1130,"y":1047},{"m":"A5","x":1265,"y":1131},
{"m":"A6","x":679,"y":1190},{"m":"A6","x":823,"y":1067},{"m":"A6","x":968,"y":1013},{"m":"A6","x":1111,"y":1029},{"m":"A6","x":1247,"y":1114},
{"m":"A7","x":660,"y":1170},{"m":"A7","x":800,"y":1050},{"m":"A7","x":943,"y":996},{"m":"A7","x":1084,"y":1009},{"m":"A7","x":1218,"y":1089},
{"m":"A8","x":640,"y":1151},{"m":"A8","x":776,"y":1035},{"m":"A8","x":913,"y":981},{"m":"A8","x":1050,"y":989},{"m":"A8","x":1181,"y":1058},
{"m":"A9","x":620,"y":1134},{"m":"A9","x":751,"y":1022},{"m":"A9","x":884,"y":967},{"m":"A9","x":1015,"y":970},{"m":"A9","x":1142,"y":1030},
{"m":"A10","x":601,"y":1118},{"m":"A10","x":726,"y":1010},{"m":"A10","x":854,"y":956},{"m":"A10","x":980,"y":953},{"m":"A10","x":1104,"y":1004},
{"m":"A11","x":581,"y":1103},{"m":"A11","x":701,"y":1000},{"m":"A11","x":823,"y":945},{"m":"A11","x":945,"y":939},{"m":"A11","x":1064,"y":981},
{"m":"A12","x":562,"y":1090},{"m":"A12","x":677,"y":991},{"m":"A12","x":793,"y":936},{"m":"A12","x":910,"y":926},{"m":"A12","x":1025,"y":960},
{"m":"A13","x":542,"y":1078},{"m":"A13","x":652,"y":983},{"m":"A13","x":763,"y":929},{"m":"A13","x":875,"y":915},{"m":"A13","x":985,"y":942},
{"m":"A14","x":523,"y":1067},{"m":"A14","x":627,"y":977},{"m":"A14","x":733,"y":924},{"m":"A14","x":839,"y":906},{"m":"A14","x":945,"y":926},
{"m":"A15","x":503,"y":1058},{"m":"A15","x":602,"y":972},{"m":"A15","x":703,"y":919},{"m":"A15","x":804,"y":900},{"m":"A15","x":905,"y":913},
{"m":"A16","x":484,"y":1050},{"m":"A16","x":577,"y":969},{"m":"A16","x":673,"y":917},{"m":"A16","x":768,"y":895},{"m":"A16","x":864,"y":902},
{"m":"A17","x":465,"y":1044},{"m":"A17","x":552,"y":967},{"m":"A17","x":642,"y":916},{"m":"A17","x":733,"y":892},{"m":"A17","x":823,"y":894},
{"m":"A18","x":445,"y":1039},{"m":"A18","x":528,"y":966},{"m":"A18","x":612,"y":917},{"m":"A18","x":697,"y":891},{"m":"A18","x":783,"y":888},
{"m":"A19","x":426,"y":1035},{"m":"A19","x":529,"y":948},{"m":"A19","x":635,"y":898},{"m":"A19","x":742,"y":885},
{"m":"A20","x":407,"y":1032},{"m":"A20","x":503,"y":951},{"m":"A20","x":601,"y":902},{"m":"A20","x":701,"y":884},
{"m":"A21","x":388,"y":1031},{"m":"A21","x":477,"y":955},{"m":"A21","x":568,"y":907},{"m":"A21","x":660,"y":886},
{"m":"A22","x":369,"y":1031},{"m":"A22","x":451,"y":961},{"m":"A22","x":535,"y":914},{"m":"A22","x":620,"y":891},
{"m":"A23","x":350,"y":1033},{"m":"A23","x":425,"y":968},{"m":"A23","x":501,"y":923},{"m":"A23","x":579,"y":897},
{"m":"A24","x":331,"y":1036},{"m":"A24","x":399,"y":977},{"m":"A24","x":468,"y":934},{"m":"A24","x":539,"y":907},
{"m":"A25","x":313,"y":1040},{"m":"A25","x":373,"y":987},{"m":"A25","x":436,"y":946},{"m":"A25","x":499,"y":919},
{"m":"A26","x":294,"y":1046},{"m":"A26","x":375,"y":978},{"m":"A26","x":459,"y":933},
{"m":"A27","x":276,"y":1053},{"m":"A27","x":347,"y":993},{"m":"A27","x":419,"y":950},
{"m":"A28","x":258,"y":1061},{"m":"A28","x":318,"y":1009},{"m":"A28","x":380,"y":970},
{"m":"A29","x":240,"y":1071},{"m":"A29","x":290,"y":1027},{"m":"A29","x":341,"y":992},
{"m":"A30","x":222,"y":1082},{"m":"A30","x":262,"y":1046},{"m":"A30","x":303,"y":1016},
{"m":"B0","x":794,"y":1338},{"m":"B0","x":756,"y":1283},{"m":"B0","x":717,"y":1234},{"m":"B0","x":679,"y":1190},{"m":"B0","x":640,"y":1151},{"m":"B0","x":601,"y":1118},{"m":"B0","x":562,"y":1090},{"m":"B0","x":523,"y":1067},{"m":"B0","x":484,"y":1050},{"m":"B0","x":445,"y":1039},{"m":"B0","x":407,"y":1032},{"m":"B0","x":369,"y":1031},{"m":"B0","x":331,"y":1036},{"m":"B0","x":294,"y":1046},{"m":"B0","x":258,"y":1061},{"m":"B0","x":222,"y":1082},
{"m":"B1","x":812,"y":1317},{"m":"B1","x":669,"y":1140},{"m":"B1","x":522,"y":1039},{"m":"B1","x":378,"y":1014},{"m":"B1","x":240,"y":1065},
{"m":"B2","x":831,"y":1297},{"m":"B2","x":688,"y":1121},{"m":"B2","x":541,"y":1021},{"m":"B2","x":397,"y":997},{"m":"B2","x":259,"y":1049},
{"m":"B3","x":850,"y":1278},{"m":"B3","x":707,"y":1103},{"m":"B3","x":560,"y":1004},{"m":"B3","x":415,"y":981},{"m":"B3","x":277,"y":1034},
{"m":"B4","x":869,"y":1261},{"m":"B4","x":726,"y":1087},{"m":"B4","x":579,"y":989},{"m":"B4","x":434,"y":967},{"m":"B4","x":296,"y":1021},
{"m":"B5","x":889,"y":1244},{"m":"B5","x":748,"y":1074},{"m":"B5","x":604,"y":977},{"m":"B5","x":461,"y":953},{"m":"B5","x":324,"y":1002},
{"m":"B6","x":907,"y":1229},{"m":"B6","x":772,"y":1064},{"m":"B6","x":632,"y":968},{"m":"B6","x":494,"y":940},{"m":"B6","x":360,"y":981},
{"m":"B7","x":927,"y":1216},{"m":"B7","x":795,"y":1056},{"m":"B7","x":661,"y":960},{"m":"B7","x":526,"y":929},{"m":"B7","x":396,"y":962},
{"m":"B8","x":946,"y":1203},{"m":"B8","x":819,"y":1048},{"m":"B8","x":689,"y":953},{"m":"B8","x":559,"y":919},{"m":"B8","x":432,"y":944},
{"m":"B9","x":965,"y":1192},{"m":"B9","x":843,"y":1042},{"m":"B9","x":718,"y":949},{"m":"B9","x":592,"y":911},{"m":"B9","x":468,"y":930},
{"m":"B10","x":984,"y":1182},{"m":"B10","x":867,"y":1037},{"m":"B10","x":746,"y":945},{"m":"B10","x":625,"y":905},{"m":"B10","x":505,"y":917},
{"m":"B11","x":1004,"y":1173},{"m":"B11","x":891,"y":1034},{"m":"B11","x":775,"y":943},{"m":"B11","x":658,"y":900},{"m":"B11","x":542,"y":906},
{"m":"B12","x":1023,"y":1165},{"m":"B12","x":915,"y":1031},{"m":"B12","x":803,"y":942},{"m":"B12","x":691,"y":897},{"m":"B12","x":579,"y":897},
{"m":"B13","x":1042,"y":1159},{"m":"B13","x":938,"y":1030},{"m":"B13","x":832,"y":942},{"m":"B13","x":724,"y":896},{"m":"B13","x":616,"y":891},
{"m":"B14","x":1061,"y":1153},{"m":"B14","x":962,"y":1030},{"m":"B14","x":860,"y":944},{"m":"B14","x":757,"y":897},{"m":"B14","x":654,"y":887},
{"m":"B15","x":1080,"y":1150},{"m":"B15","x":986,"y":1031},{"m":"B15","x":889,"y":948},{"m":"B15","x":790,"y":899},{"m":"B15","x":691,"y":885},
{"m":"B16","x":1099,"y":1147},{"m":"B16","x":1009,"y":1034},{"m":"B16","x":917,"y":953},{"m":"B16","x":823,"y":903},{"m":"B16","x":729,"y":884},
{"m":"B17","x":1118,"y":1145},{"m":"B17","x":1033,"y":1038},{"m":"B17","x":945,"y":959},{"m":"B17","x":856,"y":908},{"m":"B17","x":766,"y":886},
{"m":"B18","x":1137,"y":1145},{"m":"B18","x":1029,"y":1014},{"m":"B18","x":917,"y":930},{"m":"B18","x":804,"y":891},
{"m":"B19","x":1156,"y":1146},{"m":"B19","x":1054,"y":1022},{"m":"B19","x":948,"y":939},{"m":"B19","x":841,"y":897},
{"m":"B20","x":1174,"y":1148},{"m":"B20","x":1079,"y":1031},{"m":"B20","x":980,"y":950},{"m":"B20","x":878,"y":905},
{"m":"B21","x":1193,"y":1152},{"m":"B21","x":1103,"y":1041},{"m":"B21","x":1010,"y":962},{"m":"B21","x":916,"y":916},
{"m":"B22","x":1211,"y":1156},{"m":"B22","x":1127,"y":1052},{"m":"B22","x":1041,"y":976},{"m":"B22","x":952,"y":929},
{"m":"B23","x":1229,"y":1162},{"m":"B23","x":1152,"y":1064},{"m":"B23","x":1071,"y":991},{"m":"B23","x":989,"y":943},
{"m":"B24","x":1247,"y":1169},{"m":"B24","x":1176,"y":1078},{"m":"B24","x":1102,"y":1009},{"m":"B24","x":1026,"y":960},
{"m":"B25","x":1265,"y":1178},{"m":"B25","x":1200,"y":1093},{"m":"B25","x":1132,"y":1027},{"m":"B25","x":1062,"y":979},
{"m":"B26","x":1283,"y":1187},{"m":"B26","x":1223,"y":1110},{"m":"B26","x":1162,"y":1047},{"m":"B26","x":1098,"y":1001},
{"m":"B27","x":1301,"y":1198},{"m":"B27","x":1219,"y":1097},{"m":"B27","x":1134,"y":1024},
{"m":"B28","x":1318,"y":1210},{"m":"B28","x":1245,"y":1118},{"m":"B28","x":1169,"y":1049},
{"m":"B29","x":1335,"y":1224},{"m":"B29","x":1271,"y":1141},{"m":"B29","x":1204,"y":1077},
{"m":"B30","x":1352,"y":1238},{"m":"B30","x":1296,"y":1165},{"m":"B30","x":1239,"y":1107}],
"dots":[{"x":208,"y":90},{"x":214,"y":181},{"x":221,"y":274},{"x":227,"y":366},{"x":232,"y":458},{"x":244,"y":572},{"x":378,"y":615},{"x":513,"y":657},{"x":647,"y":699},{"x":782,"y":741},{"x":917,"y":699},{"x":1051,"y":657},{"x":1186,"y":615},{"x":1321,"y":572},{"x":206,"y":880},{"x":212,"y":972},{"x":219,"y":1066},{"x":226,"y":1159},{"x":233,"y":1250},{"x":245,"y":1368},{"x":379,"y":1410},{"x":518,"y":1453},{"x":656,"y":1495},{"x":794,"y":1538},{"x":932,"y":1495},{"x":1068,"y":1453},{"x":1207,"y":1410},{"x":1341,"y":1368}],
"peakDark":[{"x":783,"y":103},{"x":794,"y":892}],
"peakPale":[{"x":783,"y":110},{"x":794,"y":900}],
"tickText":[{"t":"12.4","x":171,"y":105},{"t":"11.9","x":177,"y":197},{"t":"11.4","x":184,"y":289},{"t":"10.9","x":190,"y":381},{"t":"10.4","x":197,"y":473},{"t":"7.00","x":204,"y":586},{"t":"6.50","x":339,"y":630},{"t":"6.00","x":474,"y":671},{"t":"5.50","x":610,"y":713},{"t":"5.00","x":743,"y":755},{"t":"10.00","x":828,"y":755},{"t":"12.50","x":962,"y":713},{"t":"15.00","x":1097,"y":671},{"t":"17.50","x":1232,"y":629},{"t":"20.00","x":1366,"y":586},{"t":"12.4","x":167,"y":898},{"t":"11.875","x":161,"y":989},{"t":"11.35","x":175,"y":1081},{"t":"10.825","x":175,"y":1174},{"t":"10.3","x":195,"y":1266},{"t":"50.00","x":195,"y":1381},{"t":"45.00","x":334,"y":1426},{"t":"40.00","x":471,"y":1467},{"t":"35.00","x":609,"y":1510},{"t":"30.00","x":746,"y":1552},{"t":"5.00","x":833,"y":1552},{"t":"5.50","x":970,"y":1510},{"t":"6.00","x":1108,"y":1467},{"t":"6.50","x":1244,"y":1424},{"t":"7.00","x":1386,"y":1381}],
"titleText":[{"t":"C: pH","x":305,"y":725},{"t":"B: Yeast extract","x":1260,"y":723},{"t":"D: Temperature","x":306,"y":1522},{"t":"C: pH","x":1280,"y":1521}],
"rotText":[{"t":"Riboflavin","x":29,"y":339},{"t":"Riboflavin","x":24,"y":1132}],
"serifRot":[{"t":"mg/L","x":28,"y":175},{"t":"mg/L","x":26,"y":973}],
"serifText":[{"t":"g/L","x":1445,"y":720},{"t":"C","x":480,"y":1529}],
"degText":[{"t":"o","x":458,"y":1515}]
},
"encoding":{"x":{"field":"x","type":"quantitative","axis":null,"scale":{"domain":[0,1476],"nice":false,"zero":false}},"y":{"field":"y","type":"quantitative","axis":null,"stack":null,"scale":{"domain":[1567,0],"nice":false,"zero":false}}},
"layer":[
{"data":{"name":"plane"},"mark":{"type":"area","color":"#ffff00","interpolate":"linear"},"encoding":{"y2":{"field":"y2"},"detail":{"field":"b"}}},
{"data":{"name":"frame"},"mark":{"type":"line","color":"#3a3a3a","strokeWidth":3.3},"encoding":{"detail":{"field":"m"}}},
{"data":{"name":"strong"},"mark":{"type":"line","color":"#b87c10","strokeWidth":3.8,"interpolate":"cardinal"},"encoding":{"detail":{"field":"m"},"order":{"field":"p"}}},
{"data":{"name":"faint"},"mark":{"type":"line","color":"#c8a410","strokeWidth":2.6,"interpolate":"cardinal"},"encoding":{"detail":{"field":"m"},"order":{"field":"p"}}},
{"data":{"name":"bands"},"mark":{"type":"area","interpolate":"linear"},"encoding":{"y2":{"field":"y2"},"detail":{"field":"b"},"color":{"field":"l","type":"ordinal","legend":null,"scale":{"domain":[0,1,2,2.5,3,3.5,4,4.5,5,5.5,6,6.5,7],"range":["#dcec14","#fadc00","#ffc400","#ffb400","#ffa400","#ff9400","#ff8400","#ff7200","#ff6000","#ff4e00","#ff3c00","#f62c00","#ee1e00"]}}}},
{"data":{"name":"mesh"},"mark":{"type":"line","color":"#3e2e1c","strokeWidth":3.2,"strokeOpacity":0.85,"interpolate":"natural"},"encoding":{"detail":{"field":"m"}}},
{"data":{"name":"fold"},"mark":{"type":"area","color":"#2a0800","opacity":0.36,"interpolate":"monotone"},"encoding":{"y2":{"field":"y2"},"detail":{"field":"m"}}},
{"data":{"name":"fold"},"mark":{"type":"line","color":"#1c0800","strokeWidth":5,"interpolate":"monotone"},"encoding":{"detail":{"field":"m"}}},
{"data":{"name":"dots"},"mark":{"type":"point","filled":true,"color":"#000000","size":280,"opacity":1}},
{"data":{"name":"peakDark"},"mark":{"type":"point","filled":true,"color":"#5a0612","size":2000,"opacity":1}},
{"data":{"name":"peakPale"},"mark":{"type":"point","filled":true,"color":"#fbe4e0","size":950,"opacity":1}},
{"data":{"name":"tickText"},"mark":{"type":"text","font":"Liberation Sans","fontSize":64,"color":"#3c3c44","align":"center","baseline":"middle"},"encoding":{"text":{"field":"t"}}},
{"data":{"name":"titleText"},"mark":{"type":"text","font":"Liberation Sans","fontSize":100,"color":"#000000","align":"center","baseline":"middle"},"encoding":{"text":{"field":"t"}}},
{"data":{"name":"rotText"},"mark":{"type":"text","font":"Liberation Sans","fontSize":98,"color":"#000000","align":"center","baseline":"middle","angle":270},"encoding":{"text":{"field":"t"}}},
{"data":{"name":"serifRot"},"mark":{"type":"text","font":"Liberation Serif","fontWeight":"bold","fontSize":96,"color":"#000000","align":"center","baseline":"middle","angle":270},"encoding":{"text":{"field":"t"}}},
{"data":{"name":"serifText"},"mark":{"type":"text","font":"Liberation Serif","fontWeight":"bold","fontSize":96,"color":"#000000","align":"center","baseline":"middle"},"encoding":{"text":{"field":"t"}}},
{"data":{"name":"degText"},"mark":{"type":"text","font":"Liberation Sans","fontSize":66,"color":"#000000","align":"center","baseline":"middle"},"encoding":{"text":{"field":"t"}}}
]}
